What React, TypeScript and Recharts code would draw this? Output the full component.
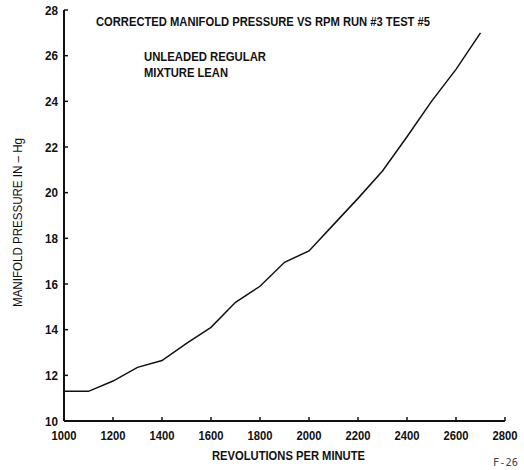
import React from 'react';
import { LineChart, Line, XAxis, YAxis } from 'recharts';

const rpm = [1000, 1100, 1200, 1300, 1400, 1500, 1600, 1700, 1800, 1900, 2000, 2100, 2200, 2300, 2400, 2500, 2600, 2700];
const pressure = [11.3, 11.3, 11.75, 12.35, 12.65, 13.4, 14.1, 15.2, 15.9, 16.95, 17.45, 18.6, 19.75, 20.95, 22.45, 24.0, 25.4, 27.0];
const xTicks = [1000, 1200, 1400, 1600, 1800, 2000, 2200, 2400, 2600, 2800];
const yTicks = [10, 12, 14, 16, 18, 20, 22, 24, 26, 28];

const title = 'CORRECTED MANIFOLD PRESSURE VS RPM RUN #3 TEST #5';
const notes = ['UNLEADED REGULAR', 'MIXTURE LEAN'];
const xTitle = 'REVOLUTIONS PER MINUTE';
const yTitle = 'MANIFOLD PRESSURE IN \u2013 Hg';
const figId = 'F-26';

const data = rpm.map((r, i) => ({ rpm: r, p: pressure[i] }));

const font = "'Liberation Sans', Arial, sans-serif";
const ink = '#111';

// the original uses a condensed sans, so squeeze Arial to fit
function XTick(props: any) {
  const { x, y, payload } = props;
  return (
    <text x={x} y={y + 11} textAnchor="middle" fontFamily={font} fontWeight={700} fontSize={13} fill={ink}
      textLength={25} lengthAdjust="spacingAndGlyphs">
      {payload.value}
    </text>
  );
}

function YTick(props: any) {
  const { x, y, payload } = props;
  return (
    <text x={x} y={y + 4.5} textAnchor="end" fontFamily={font} fontWeight={700} fontSize={12.5} fill={ink}
      textLength={13} lengthAdjust="spacingAndGlyphs">
      {payload.value}
    </text>
  );
}

export default function App(): React.JSX.Element {
  return (
    <div style={{ position: 'absolute', left: 0, top: 0, width: 524, height: 470, background: '#fff' }}>
      <LineChart width={524} height={470} data={data} margin={{ top: 10, right: 19, left: 0, bottom: 0 }}>
        <XAxis
          dataKey="rpm"
          type="number"
          domain={[1000, 2800]}
          ticks={xTicks}
          height={49}
          tickSize={-4}
          tickMargin={12}
          tick={<XTick />}
          axisLine={{ stroke: ink, strokeWidth: 2 }}
          tickLine={{ stroke: ink, strokeWidth: 1.5 }}
        />
        <YAxis
          type="number"
          domain={[10, 28]}
          ticks={yTicks}
          width={64}
          tickSize={-4}
          tickMargin={10}
          tick={<YTick />}
          axisLine={{ stroke: ink, strokeWidth: 2 }}
          tickLine={{ stroke: ink, strokeWidth: 1.5 }}
        />
        <Line dataKey="p" type="linear" stroke={ink} strokeWidth={1.5} dot={false} isAnimationActive={false} />
      </LineChart>
      <svg width={524} height={470} style={{ position: 'absolute', left: 0, top: 0, pointerEvents: 'none' }}>
        <text x={96} y={26} fontFamily={font} fontWeight={700} fontSize={13.5} fill={ink} textLength={334} lengthAdjust="spacingAndGlyphs">
          {title}
        </text>
        <text x={144} y={61} fontFamily={font} fontWeight={700} fontSize={13} fill={ink} textLength={122} lengthAdjust="spacingAndGlyphs">
          {notes[0]}
        </text>
        <text x={144} y={77} fontFamily={font} fontWeight={700} fontSize={13} fill={ink} textLength={84} lengthAdjust="spacingAndGlyphs">
          {notes[1]}
        </text>
        <text x={212} y={460} fontFamily={font} fontWeight={700} fontSize={13} fill={ink} textLength={153} lengthAdjust="spacingAndGlyphs">
          {xTitle}
        </text>
        <text x={0} y={0} transform="translate(22,307) rotate(-90)" fontFamily={font} fontWeight={400} fontSize={13} fill={ink}
          textLength={169} lengthAdjust="spacingAndGlyphs">
          {yTitle}
        </text>
        <text x={493} y={466} fontFamily="'DejaVu Sans Mono', monospace" fontSize={10} fill="#444" textLength={25} lengthAdjust="spacingAndGlyphs">
          {figId}
        </text>
      </svg>
    </div>
  );
}
